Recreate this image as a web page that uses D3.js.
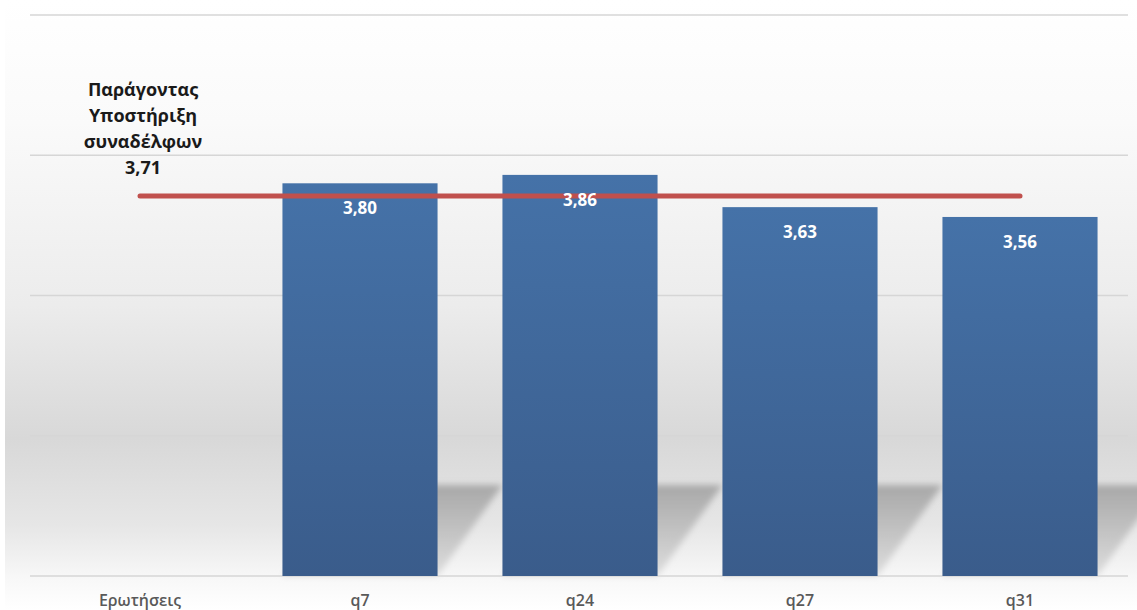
<!DOCTYPE html>
<html>
<head>
<meta charset="utf-8">
<script src="https://d3js.org/d3.v7.min.js"></script>
<style>
  body { margin: 0; background: #fff; }
  text { font-family: "Open Sans", "Noto Sans", sans-serif; }
</style>
</head>
<body>
<script>
  // data
  var categories = ["Ερωτήσεις", "q7", "q24", "q27", "q31"];
  var values = [null, 3.80, 3.86, 3.63, 3.56];
  var valueLabels = ["", "3,80", "3,86", "3,63", "3,56"];
  var factorValue = 3.71;
  var factorLines = ["Παράγοντας", "Υποστήριξη", "συναδέλφων", "3,71"];
  var gridValues = [1, 2, 3, 4, 5];

  var W = 1137, H = 610;
  var svg = d3.select("body").append("svg").attr("width", W).attr("height", H);
  var defs = svg.append("defs");

  var bg = defs.append("linearGradient").attr("id", "bg")
    .attr("x1", 0).attr("y1", 0).attr("x2", 0).attr("y2", 1);
  [[0, "#ffffff"], [0.2, "#fafafa"], [0.5, "#ececec"], [0.72, "#d8d8d8"],
   [0.86, "#e6e6e6"], [0.95, "#f8f8f8"], [1, "#ffffff"]].forEach(function (s) {
    bg.append("stop").attr("offset", s[0]).attr("stop-color", s[1]);
  });

  var barGrad = defs.append("linearGradient").attr("id", "barGrad")
    .attr("x1", 0).attr("y1", 0).attr("x2", 0).attr("y2", 1);
  barGrad.append("stop").attr("offset", 0).attr("stop-color", "#4572a8");
  barGrad.append("stop").attr("offset", 1).attr("stop-color", "#3a5c8b");

  var shGrad = defs.append("linearGradient").attr("id", "shGrad")
    .attr("x1", 0).attr("y1", 0).attr("x2", 0).attr("y2", 1);
  shGrad.append("stop").attr("offset", 0).attr("stop-color", "#a8a8a8");
  shGrad.append("stop").attr("offset", 0.5).attr("stop-color", "#c2c2c2");
  shGrad.append("stop").attr("offset", 1).attr("stop-color", "#dedede");

  defs.append("filter").attr("id", "blur").attr("x", "-20%").attr("y", "-20%")
    .attr("width", "140%").attr("height", "140%")
    .append("feGaussianBlur").attr("stdDeviation", 3);

  svg.append("rect").attr("x", 5).attr("y", 0).attr("width", W - 5).attr("height", H)
    .attr("fill", "url(#bg)");

  var x = d3.scaleBand().domain(categories).range([30, 1130])
    .paddingInner(0.295).paddingOuter(0.1475);
  var y = d3.scaleLinear().domain([1, 5]).range([576, 15]);

  // gridlines
  svg.append("g").selectAll("line").data(gridValues).enter().append("line")
    .attr("x1", 30).attr("x2", 1128)
    .attr("y1", function (d) { return y(d); })
    .attr("y2", function (d) { return y(d); })
    .attr("stroke", "#d6d6d6").attr("stroke-width", 1.5);

  var barData = categories.map(function (c, i) {
    return { cat: c, v: values[i], label: valueLabels[i] };
  }).filter(function (d) { return d.v !== null; });

  // shadows on back wall
  var shTop = 485, base = y(1), dx = 65;
  svg.append("g").attr("filter", "url(#blur)").selectAll("path").data(barData).enter()
    .append("path")
    .attr("d", function (d) {
      var l = x(d.cat), r = l + x.bandwidth();
      return "M" + l + "," + base + "L" + (l + dx) + "," + shTop +
        "L" + (r + dx) + "," + shTop + "L" + r + "," + base + "Z";
    })
    .attr("fill", "url(#shGrad)");

  // bars
  svg.append("g").selectAll("rect").data(barData).enter().append("rect")
    .attr("x", function (d) { return x(d.cat); })
    .attr("width", x.bandwidth())
    .attr("y", function (d) { return y(d.v); })
    .attr("height", function (d) { return y(1) - y(d.v); })
    .attr("fill", "url(#barGrad)");

  // factor line
  var xc = function (c) { return x(c) + x.bandwidth() / 2; };
  svg.append("line")
    .attr("x1", xc(categories[0])).attr("x2", xc(categories[categories.length - 1]))
    .attr("y1", y(factorValue)).attr("y2", y(factorValue))
    .attr("stroke", "#c0504d").attr("stroke-width", 5).attr("stroke-linecap", "round");

  // value labels
  svg.append("g").selectAll("text").data(barData).enter().append("text")
    .attr("x", function (d) { return xc(d.cat); })
    .attr("y", function (d) { return y(d.v) + 31; })
    .attr("text-anchor", "middle").attr("fill", "#ffffff")
    .attr("font-size", 17).attr("font-weight", "bold")
    .text(function (d) { return d.label; });

  // factor annotation
  svg.append("g").selectAll("text").data(factorLines).enter().append("text")
    .attr("x", xc(categories[0]) + 3)
    .attr("y", function (d, i) { return 96 + i * 26; })
    .attr("text-anchor", "middle").attr("fill", "#1a1a1a")
    .attr("font-size", 18).attr("font-weight", "bold")
    .text(function (d) { return d; });

  // category axis labels
  svg.append("g").selectAll("text").data(categories).enter().append("text")
    .attr("x", function (d) { return xc(d); })
    .attr("y", 606)
    .attr("text-anchor", "middle").attr("fill", "#595959")
    .attr("font-size", 16).attr("font-weight", 600)
    .text(function (d) { return d; });
</script>
</body>
</html>
